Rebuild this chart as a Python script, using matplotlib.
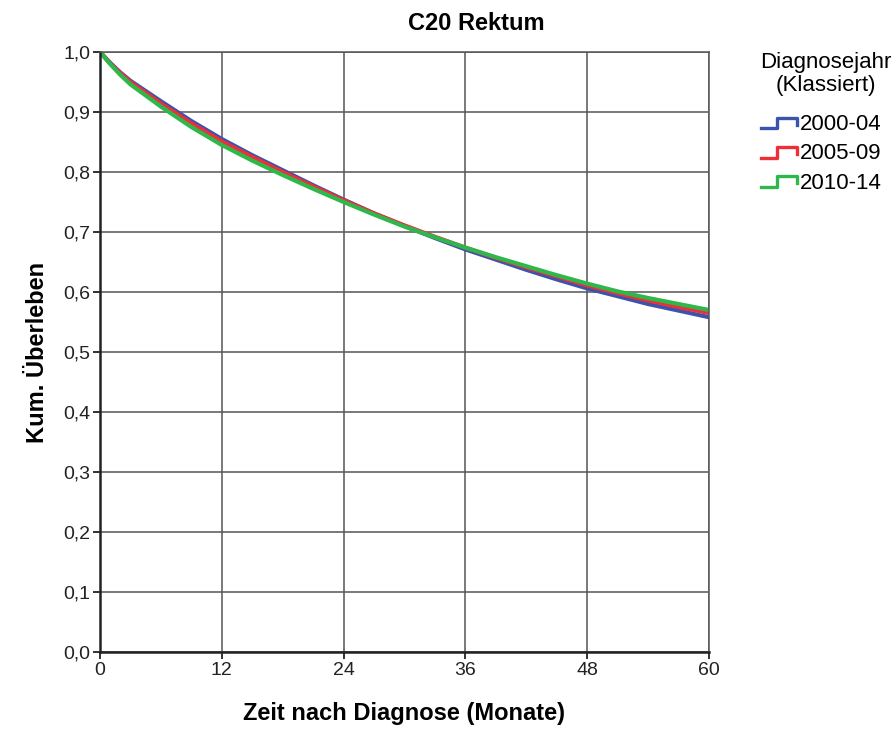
import matplotlib
matplotlib.use("Agg")
import matplotlib.pyplot as plt
from matplotlib.lines import Line2D
from matplotlib.legend_handler import HandlerBase
import numpy as np

plt.rcParams['font.family'] = ['Liberation Sans', 'DejaVu Sans']

# survival
months = [0, 1, 2, 3, 6, 9, 12, 15, 18, 21, 24, 27, 30, 33, 36, 39, 42, 45, 48, 51, 54, 57, 60]
surv_2000 = [1.0, 0.982, 0.966, 0.952, 0.918, 0.885, 0.855, 0.828, 0.803, 0.778, 0.754, 0.731, 0.710, 0.690, 0.671, 0.654, 0.637, 0.621, 0.606, 0.593, 0.580, 0.569, 0.558]
surv_2005 = [1.0, 0.981, 0.965, 0.950, 0.914, 0.881, 0.851, 0.825, 0.800, 0.776, 0.753, 0.731, 0.711, 0.692, 0.674, 0.657, 0.641, 0.626, 0.611, 0.598, 0.586, 0.575, 0.565]
surv_2010 = [1.0, 0.980, 0.962, 0.946, 0.909, 0.875, 0.845, 0.819, 0.795, 0.772, 0.750, 0.729, 0.709, 0.691, 0.674, 0.658, 0.643, 0.628, 0.614, 0.601, 0.590, 0.580, 0.570]
groups = ['2000-04', '2005-09', '2010-14']
colors = ['#3b53ae', '#ee2f38', '#2eb84b']


class StepHandler(HandlerBase):
    # legend glyph shaped like a small step
    def create_artists(self, legend, orig_handle, xdescent, ydescent,
                       width, height, fontsize, trans):
        xs = np.array([0, 0.45, 0.45, 1.0, 1.0]) * width - xdescent
        ys = np.array([0.1, 0.1, 0.8, 0.8, 0.35]) * height - ydescent
        ln = Line2D(xs, ys, color=orig_handle.get_color(), lw=2.4, transform=trans)
        return [ln]


fig = plt.figure(figsize=(8.95, 7.3), dpi=100)
ax = fig.add_axes([100 / 895, 78 / 730, 609 / 895, 600 / 730])

handles = []
for s, c, g in zip([surv_2000, surv_2005, surv_2010], colors, groups):
    h, = ax.plot(months, s, color=c, lw=3.0, label=g, solid_joinstyle='round')
    handles.append(h)

ax.set_xlim(0, 60)
ax.set_ylim(0, 1.0)
ax.set_xticks(np.arange(0, 61, 12))
yt = np.round(np.arange(0, 1.01, 0.1), 1)
ax.set_yticks(yt)
ax.set_yticklabels([f'{v:.1f}'.replace('.', ',') for v in yt])
ax.tick_params(direction='out', length=5, width=1.3, labelsize=14, colors='#222222', pad=2)
ax.grid(True, color='#555555', linewidth=1.1)
ax.set_axisbelow(True)
for sp in ax.spines.values():
    sp.set_color('#555555')
    sp.set_linewidth(1.1)
ax.spines['left'].set_color('#222222')
ax.spines['bottom'].set_color('#222222')
ax.spines['left'].set_linewidth(1.8)
ax.spines['bottom'].set_linewidth(1.8)

ax.set_xlabel('Zeit nach Diagnose (Monate)', fontsize=17, fontweight='bold', labelpad=17)
ax.set_ylabel('Kum. Überleben', fontsize=17, fontweight='bold', labelpad=10)
fig.text(476 / 895, 1 - 23 / 730, 'C20 Rektum', fontsize=17, fontweight='bold',
         ha='center', va='center')

# legend title drawn on its own so the gap to the entries can be set
fig.text(826 / 895, 1 - 74 / 730, 'Diagnosejahr\n(Klassiert)', fontsize=16,
         ha='center', va='center', multialignment='center', linespacing=1.12)
leg = fig.legend(handles=handles, labels=groups, loc='upper left',
                 bbox_to_anchor=(761 / 895, 1 - 114 / 730), frameon=False,
                 fontsize=16, handler_map={Line2D: StepHandler()}, handlelength=1.6,
                 handletextpad=0.15, labelspacing=0.38, borderaxespad=0,
                 borderpad=0)

fig.savefig('out.png', dpi=100)
